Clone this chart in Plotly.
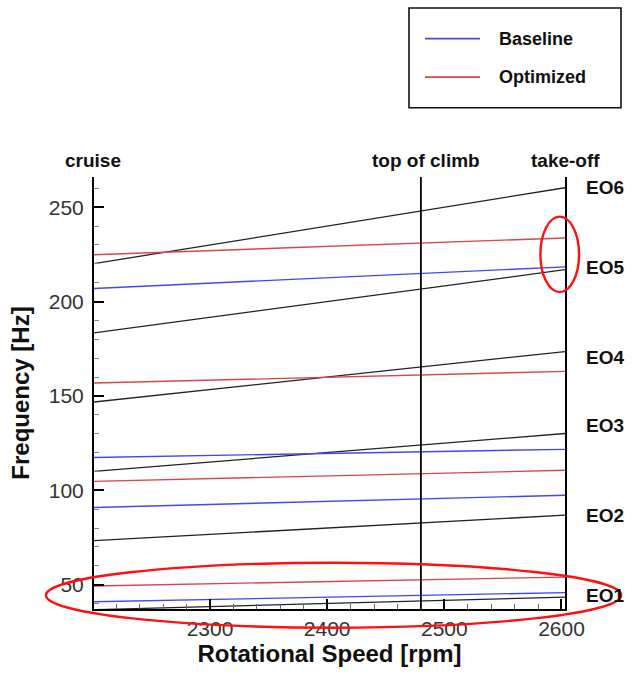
import plotly.graph_objects as go

# ---- data -------------------------------------------------------------
# ends of the speed sweep [rpm]
rpm_sweep = [2200, 2603]

# engine-order excitation lines, frequency at both ends of the sweep [Hz]
eo_names = ["EO1", "EO2", "EO3", "EO4", "EO5", "EO6"]
eo_freq = [
    [36.7, 43.4],
    [73.3, 86.8],
    [110.0, 130.1],
    [146.7, 173.5],
    [183.3, 216.9],
    [220.0, 260.3],
]

# blade natural frequencies at both ends of the sweep [Hz]
baseline_modes = [[40.9, 45.8], [90.9, 97.4], [117.4, 121.7], [206.9, 218.4]]
optimized_modes = [[49.3, 54.0], [104.7, 110.6], [156.8, 163.0], [224.8, 233.7]]

# operating points [rpm]
op_names = ["cruise", "top of climb", "take-off"]
op_rpm = [2200, 2480, 2603]

# highlighted regions: (rpm0, rpm1, Hz0, Hz1)
highlight_regions = [(2582, 2615, 205.0, 245.0), (2160, 2651, 27.2, 61.6)]

# ---- layout constants ---------------------------------------------------
W, H = 632, 675
ML, MR, MT, MB = 94, 67, 177, 61
XR = [2201, 2603]
YR = [37.1, 266.0]

BLUE = "#4646f5"
RED = "#d84646"
FONT = "Liberation Sans, Arial, sans-serif"


def dx(v):
    return (v - XR[0]) / (XR[1] - XR[0])


def dy(v):
    return (v - YR[0]) / (YR[1] - YR[0])


def px_x(p):
    return (p - ML) / (W - ML - MR)


def px_y(p):
    return (H - MB - p) / (H - MT - MB)


fig = go.Figure()

for f in eo_freq:
    fig.add_trace(go.Scatter(x=rpm_sweep, y=f, mode="lines",
                             line=dict(color="#222222", width=1.3),
                             showlegend=False, hoverinfo="skip"))
for f in baseline_modes:
    fig.add_trace(go.Scatter(x=rpm_sweep, y=f, mode="lines",
                             line=dict(color=BLUE, width=1.4),
                             showlegend=False))
for f in optimized_modes:
    fig.add_trace(go.Scatter(x=rpm_sweep, y=f, mode="lines",
                             line=dict(color=RED, width=1.4),
                             showlegend=False))

shapes = []
# top-of-climb marker (take-off sits on the right frame line)
shapes.append(dict(type="line", xref="x", yref="paper", x0=op_rpm[1], x1=op_rpm[1],
                   y0=0, y1=1, line=dict(color="black", width=1.8)))

# red highlight ellipses
for r0, r1, f0, f1 in highlight_regions:
    shapes.append(dict(type="circle", xref="paper", yref="paper",
                       x0=dx(r0), x1=dx(r1), y0=dy(f0), y1=dy(f1),
                       line=dict(color="#ff1010", width=2.4)))

# legend box
shapes.append(dict(type="rect", xref="paper", yref="paper",
                   x0=px_x(409), x1=px_x(621), y0=px_y(107), y1=px_y(6),
                   line=dict(color="#111111", width=1.6), fillcolor="white"))
for col, yy in [(BLUE, 37), (RED, 76)]:
    shapes.append(dict(type="line", xref="paper", yref="paper",
                       x0=px_x(425), x1=px_x(480), y0=px_y(yy), y1=px_y(yy),
                       line=dict(color=col, width=1.6)))

annotations = []
for name, yy in [("Baseline", 37), ("Optimized", 76)]:
    annotations.append(dict(text=f"<b>{name}</b>", xref="paper", yref="paper",
                            x=px_x(497), y=px_y(yy), xanchor="left", yanchor="middle",
                            showarrow=False, font=dict(size=18, color="#111111", family=FONT)))

# operating point labels above the frame
op_shift = [0, 5, 0]
for name, r, sh in zip(op_names, op_rpm, op_shift):
    annotations.append(dict(text=f"<b>{name}</b>", xref="paper", yref="paper",
                            x=dx(r), y=px_y(160), xanchor="center", yanchor="middle",
                            xshift=sh, showarrow=False,
                            font=dict(size=19, color="#111111", family=FONT)))

# engine-order labels to the right of the frame
eo_label_offset = [1.0, 0.0, 4.4, -2.9, 0.9, 0.0]
for name, f, off in zip(eo_names, eo_freq, eo_label_offset):
    annotations.append(dict(text=f"<b>{name}</b>", xref="paper", yref="y",
                            x=px_x(605), y=f[1] + off, xanchor="center", yanchor="middle",
                            showarrow=False, font=dict(size=19, color="#111111", family=FONT)))

fig.update_layout(
    width=W, height=H,
    margin=dict(l=ML, r=MR, t=MT, b=MB),
    paper_bgcolor="white", plot_bgcolor="white",
    font=dict(family=FONT, color="#333333"),
    showlegend=False,
    shapes=shapes,
    annotations=annotations,
)

fig.update_xaxes(
    range=XR, showgrid=False, zeroline=False,
    showline=True, linecolor="black", linewidth=2,
    tickmode="linear", tick0=2300, dtick=100,
    ticks="inside", ticklen=10, tickwidth=2, tickcolor="black",
    minor=dict(ticks="inside", ticklen=5, tickwidth=1, tickcolor="#666666", dtick=20, tick0=2300),
    tickfont=dict(size=21, color="#333333", family=FONT),
    title=dict(text="<b>Rotational Speed [rpm]</b>", standoff=6,
               font=dict(size=24, color="#111111", family=FONT)),
)
fig.update_yaxes(
    range=YR, showgrid=False, zeroline=False,
    showline=True, mirror=True, linecolor="black", linewidth=2,
    tickmode="linear", tick0=50, dtick=50,
    ticks="inside", ticklen=10, tickwidth=2, tickcolor="black",
    minor=dict(ticks="inside", ticklen=5, tickwidth=1, tickcolor="#888888", dtick=10, tick0=50),
    tickfont=dict(size=21, color="#333333", family=FONT),
    ticklabelstandoff=4,
    title=dict(text="<b>Frequency [Hz]</b>", standoff=12,
               font=dict(size=24, color="#111111", family=FONT)),
)

fig.write_html("out.html")
